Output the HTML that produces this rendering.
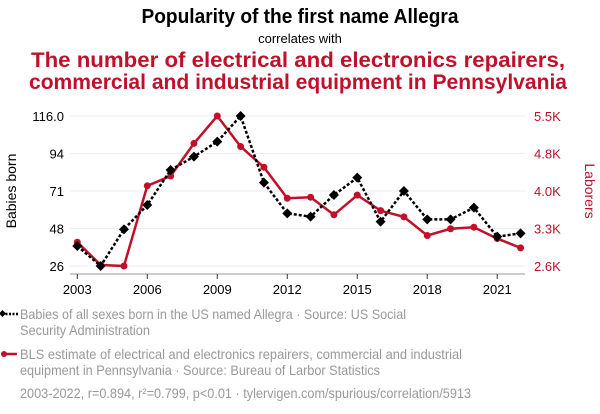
<!DOCTYPE html>
<html><head><meta charset="utf-8"><style>
body{margin:0;background:#fff;width:600px;height:414px;overflow:hidden;font-family:"Liberation Sans",Arial,sans-serif}
svg{display:block}
</style></head><body>
<svg id="chart" width="600" height="414" xmlns="http://www.w3.org/2000/svg">
<text x="300" y="23" text-anchor="middle" font-size="20" font-weight="bold" fill="#000" textLength="317" lengthAdjust="spacingAndGlyphs">Popularity of the first name Allegra</text>
<text x="300" y="43" text-anchor="middle" font-size="13" fill="#000">correlates with</text>
<text x="298" y="67" text-anchor="middle" font-size="21" font-weight="bold" fill="#c0102a" textLength="534" lengthAdjust="spacingAndGlyphs">The number of electrical and electronics repairers,</text>
<text x="298" y="89" text-anchor="middle" font-size="21" font-weight="bold" fill="#c0102a" textLength="538" lengthAdjust="spacingAndGlyphs">commercial and industrial equipment in Pennsylvania</text>
<g id="grid"></g><g id="axes"></g><g id="series"></g>
<text transform="translate(16,191) rotate(-90)" text-anchor="middle" font-size="14" fill="#000">Babies born</text>
<text transform="translate(585,191) rotate(90)" text-anchor="middle" font-size="14" fill="#c0102a">Laborers</text>
<g>
<line x1="2" y1="314" x2="18" y2="314" stroke="#000" stroke-width="2.5" stroke-dasharray="2,1.5"/>
<rect x="0" y="311" width="5" height="5" transform="rotate(45 2.5 313.5)" fill="#000"/>
<text x="20" y="319" font-size="14" fill="#999" textLength="386" lengthAdjust="spacingAndGlyphs">Babies of all sexes born in the US named Allegra · Source: US Social</text>
<text x="20" y="335" font-size="14" fill="#999" textLength="130" lengthAdjust="spacingAndGlyphs">Security Administration</text>
</g>
<g>
<line x1="2" y1="354" x2="17" y2="354" stroke="#c0102a" stroke-width="2.5"/>
<circle cx="4" cy="354" r="3" fill="#c0102a"/>
<text x="20" y="359" font-size="14" fill="#999" textLength="442" lengthAdjust="spacingAndGlyphs">BLS estimate of electrical and electronics repairers, commercial and industrial</text>
<text x="20" y="375" font-size="14" fill="#999" textLength="360" lengthAdjust="spacingAndGlyphs">equipment in Pennsylvania · Source: Bureau of Larbor Statistics</text>
</g>
<text x="20" y="398" font-size="14" fill="#999" textLength="451" lengthAdjust="spacingAndGlyphs">2003-2022, r=0.894, r²=0.799, p&lt;0.01 · tylervigen.com/spurious/correlation/5913</text>
</svg>
<script>
const years=[2003,2004,2005,2006,2007,2008,2009,2010,2011,2012,2013,2014,2015,2016,2017,2018,2019,2020,2021,2022];
const babies=[38,26,48,62.6,83.6,91.6,100.6,116,76,57.6,55.6,68.6,79,52.6,71,54,54,61,43.6,45.6];
const laborers=[3.06,2.62,2.6,4.15,4.34,4.97,5.5,4.91,4.51,3.91,3.93,3.59,3.97,3.67,3.55,3.19,3.32,3.35,3.13,2.95];
const leftTicks=[116,93.5,71,48.5,26];
const leftTickLabels=["116.0","94","71","48","26"];
const rightTicks=[5.5,4.775,4.05,3.325,2.6];
const rightTickLabels=["5.5K","4.8K","4.0K","3.3K","2.6K"];
const xTicks=[2003,2006,2009,2012,2015,2018,2021];
const NS="http://www.w3.org/2000/svg";
const x=y=>77.3+(y-2003)*23.33;
const yl=v=>266-(v-26)*150/90;
const yr=v=>266-(v-2.6)*150/2.9;
function mk(t,a,p){const e=document.createElementNS(NS,t);for(const k in a)e.setAttribute(k,a[k]);p.appendChild(e);return e;}
const grid=document.getElementById('grid'),axes=document.getElementById('axes'),ser=document.getElementById('series');
leftTicks.forEach((v,i)=>{
 const g=mk('line',{x1:70,x2:525,y1:yl(v),y2:yl(v),stroke:'#eee','stroke-width':1},grid);
 
 
 const t=mk('text',{x:64,y:yl(v)+5,'text-anchor':'end','font-size':13,fill:'#000'},axes);t.textContent=leftTickLabels[i];
 
 
});
rightTicks.forEach((v,i)=>{
 const t=mk('text',{x:534,y:yr(v)+5,'font-size':13,fill:'#c0102a'},axes);t.textContent=rightTickLabels[i];
 
 
});
const ax=mk('line',{x1:70,x2:525,y1:274,y2:274,stroke:'#999','stroke-width':1},axes);


xTicks.forEach(yv=>{
 mk('line',{x1:x(yv),x2:x(yv),y1:274,y2:279,stroke:'#333'},axes);
 const t=mk('text',{x:x(yv),y:294,'text-anchor':'middle','font-size':13,fill:'#000'},axes);t.textContent=yv;
 
 
});
const lp=mk('polyline',{points:years.map((y,i)=>x(y)+','+yr(laborers[i])).join(' '),fill:'none',stroke:'#c0102a','stroke-width':2.5},ser);


years.forEach((y,i)=>{const c=mk('circle',{cx:x(y),cy:yr(laborers[i]),r:3.5,fill:'#c0102a'},ser);
 
 });
const bp=mk('polyline',{points:years.map((y,i)=>x(y)+','+yl(babies[i])).join(' '),fill:'none',stroke:'#000','stroke-width':2.5,'stroke-dasharray':'3,2'},ser);


years.forEach((y,i)=>{const cx=x(y),cy=yl(babies[i]);const d=mk('polygon',{points:`${cx},${cy-5} ${cx+5},${cy} ${cx},${cy+5} ${cx-5},${cy}`,fill:'#000'},ser);
 
 });
</script>
</body></html>
